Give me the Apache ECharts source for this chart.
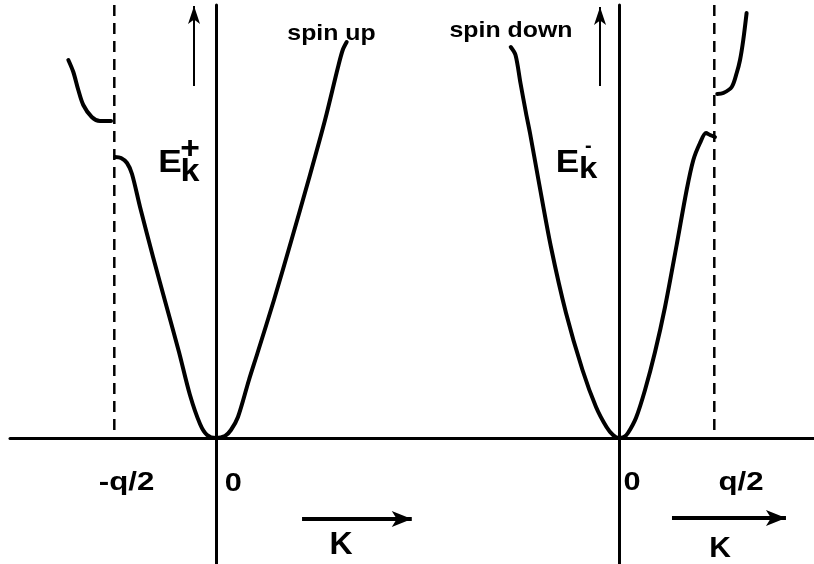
<!DOCTYPE html>
<html>
<head>
<meta charset="utf-8">
<script src="https://cdn.jsdelivr.net/npm/echarts@6/dist/echarts.min.js"></script>
<style>
  html, body { margin: 0; padding: 0; background: #fff; }
  #chart { width: 814px; height: 564px; }
</style>
</head>
<body>
<div id="chart"></div>
<script>
// Wave vector K in units of q/2, energy in arbitrary units.
// E_k^+ branch (left panel): lower band through the origin up to "spin up"
const plusLowerBand = [
  [-0.993, 2.81], [-0.934, 2.80], [-0.875, 2.75], [-0.826, 2.64], [-0.747, 2.31],
  [-0.619, 1.81], [-0.485, 1.31], [-0.364, 0.86], [-0.256, 0.43], [-0.157, 0.14],
  [-0.088, 0.03], [0, 0], [0.088, 0.02], [0.147, 0.08], [0.216, 0.21],
  [0.324, 0.58], [0.408, 0.85], [0.570, 1.38], [0.742, 1.98], [0.910, 2.58],
  [1.072, 3.18], [1.200, 3.71], [1.246, 3.88], [1.285, 3.96]
];
// E_k^+ upper band beyond -q/2
const plusUpperBand = [
  [-1.452, 3.78], [-1.403, 3.66], [-1.354, 3.48], [-1.305, 3.33],
  [-1.222, 3.21], [-1.141, 3.17], [-1.032, 3.17]
];
// E_k^- branch (right panel): from "spin down" through the origin up to q/2
const minusLowerBand = [
  [-1.136, 3.91], [-1.086, 3.83], [-1.034, 3.55], [-0.976, 3.25], [-0.934, 3.05],
  [-0.845, 2.58], [-0.714, 1.91], [-0.556, 1.25], [-0.383, 0.68], [-0.241, 0.31],
  [-0.131, 0.11], [-0.063, 0.03], [0, 0], [0.052, 0.01], [0.094, 0.05],
  [0.178, 0.20], [0.273, 0.48], [0.378, 0.86], [0.483, 1.31], [0.605, 1.93],
  [0.710, 2.48], [0.780, 2.78], [0.850, 2.95], [0.913, 3.05], [0.955, 3.03],
  [1.007, 3.01]
];
// E_k^- upper band beyond q/2
const minusUpperBand = [
  [1.031, 3.44], [1.094, 3.45], [1.183, 3.51], [1.235, 3.65],
  [1.270, 3.78], [1.304, 3.98], [1.339, 4.25]
];
// zone boundaries -q/2 and q/2
const zoneEdgeLeft = -1;
const zoneEdgeRight = 1;
const energyTop = 4.33;

const FONT = '"Liberation Sans", Arial, Helvetica, sans-serif';
const BLACK = '#000';

const chart = echarts.init(document.getElementById('chart'), null, { renderer: 'canvas' });

function xAxisFor(grid, min, max) {
  return {
    gridIndex: grid, type: 'value', min: min, max: max,
    axisLine: { show: true, onZero: true, lineStyle: { color: BLACK, width: 3 } },
    axisTick: { show: false }, axisLabel: { show: false }, splitLine: { show: false }
  };
}
function yAxisFor(grid) {
  return {
    gridIndex: grid, type: 'value', min: -1.26, max: 4.33,
    axisLine: { show: true, onZero: true, lineStyle: { color: BLACK, width: 3 } },
    axisTick: { show: false }, axisLabel: { show: false }, splitLine: { show: false }
  };
}
function curve(grid, data, extra) {
  return Object.assign({
    type: 'line', xAxisIndex: grid, yAxisIndex: grid, data: data,
    smooth: 0.3, showSymbol: false, symbol: 'none', silent: true,
    lineStyle: { color: BLACK, width: 4, cap: 'round', join: 'round' }
  }, extra || {});
}
function dashed(grid, k) {
  return {
    type: 'line', xAxisIndex: grid, yAxisIndex: grid,
    data: [[k, energyTop], [k, 0]], showSymbol: false, symbol: 'none', silent: true,
    lineStyle: { color: BLACK, width: 2.5, type: [11, 7] }
  };
}
function arrows(list) {
  return {
    silent: true, animation: false, label: { show: false },
    lineStyle: { type: 'solid', color: BLACK },
    emphasis: { disabled: true },
    data: list.map(a => [
      { coord: a.from, symbol: 'none', lineStyle: { width: a.width, color: BLACK, type: 'solid' } },
      { coord: a.to, symbol: 'arrow', symbolSize: a.head }
    ])
  };
}
function label(text, x, y, size, scaleX) {
  return {
    type: 'text', x: x, y: y, scaleX: scaleX || 1, silent: true,
    style: {
      text: text, fill: BLACK, fontFamily: FONT, fontWeight: 'bold', fontSize: size,
      align: 'center', verticalAlign: 'middle', textAlign: 'center', textVerticalAlign: 'middle'
    }
  };
}

chart.setOption({
  animation: false,
  backgroundColor: '#fff',
  grid: [
    { left: 10, width: 402, top: 5, bottom: 0 },
    { left: 412, right: 0, top: 5, bottom: 0 }
  ],
  xAxis: [xAxisFor(0, -2.0256, 1.9272), xAxisFor(1, -2.1721, 2.0462)],
  yAxis: [yAxisFor(0), yAxisFor(1)],
  series: [
    dashed(0, zoneEdgeLeft),
    dashed(1, zoneEdgeRight),
    curve(0, plusLowerBand, {
      markLine: arrows([
        { from: [-0.216, 3.52], to: [-0.216, 4.32], width: 2, head: [9, 18] },
        { from: [0.846, -0.81], to: [1.925, -0.81], width: 4, head: [12, 20] }
      ])
    }),
    curve(0, plusUpperBand),
    curve(1, minusLowerBand, {
      markLine: arrows([
        { from: [-0.199, 3.52], to: [-0.199, 4.31], width: 2, head: [9, 18] },
        { from: [0.556, -0.80], to: [1.752, -0.80], width: 4, head: [12, 20] }
      ])
    }),
    curve(1, minusUpperBand)
  ],
  graphic: [
    label('spin up', 331.5, 34, 22, 1.13),
    label('spin down', 511, 31, 22, 1.13),
    label('E', 170, 163, 32, 1.1),
    label('k', 190, 172, 31, 1.1),
    label('+', 190, 149, 32, 1.05),
    label('E', 567.5, 163, 32, 1.1),
    label('k', 588.3, 170, 30, 1.1),
    label('-', 588.3, 146, 20, 1.0),
    label('-q/2', 126.5, 483, 26, 1.2),
    label('0', 233.3, 484, 26, 1.18),
    label('0', 632, 483, 26, 1.18),
    label('q/2', 741, 483, 26, 1.2),
    label('K', 341, 545, 32, 1.0),
    label('K', 720, 549, 30, 1.0)
  ]
});
</script>
</body>
</html>
